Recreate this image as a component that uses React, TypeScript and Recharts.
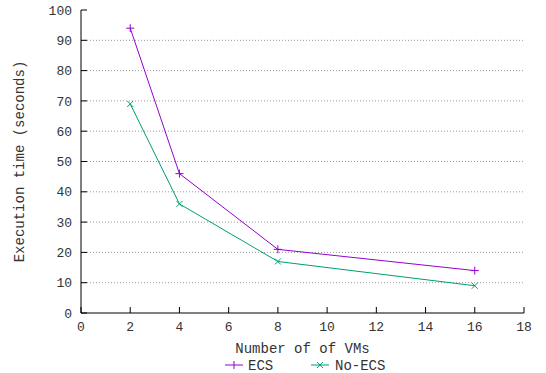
import React from 'react';
import { LineChart, Line, XAxis, YAxis, CartesianGrid } from 'recharts';

const vms = [2, 4, 8, 16];
const ecsTimes = [94, 46, 21, 14];
const noEcsTimes = [69, 36, 17, 9];
const xTicks = [0, 2, 4, 6, 8, 10, 12, 14, 16, 18];
const yTicks = [0, 10, 20, 30, 40, 50, 60, 70, 80, 90, 100];

const ECS_COLOR = '#9400D3';
const NOECS_COLOR = '#009E73';
const FONT = '"Liberation Mono", "DejaVu Sans Mono", monospace';

const data = vms.map((v, i) => ({ vms: v, ecs: ecsTimes[i], noEcs: noEcsTimes[i] }));

const PlusDot = (props: any) => {
  const { cx, cy } = props;
  if (cx == null || cy == null) return null;
  const s = 4;
  return (
    <g>
      <line x1={cx - s} x2={cx + s} y1={cy} y2={cy} stroke={ECS_COLOR} strokeWidth={1} />
      <line x1={cx} x2={cx} y1={cy - s} y2={cy + s} stroke={ECS_COLOR} strokeWidth={1} />
    </g>
  );
};

const CrossDot = (props: any) => {
  const { cx, cy } = props;
  if (cx == null || cy == null) return null;
  const s = 3;
  return (
    <g>
      <line x1={cx - s} x2={cx + s} y1={cy - s} y2={cy + s} stroke={NOECS_COLOR} strokeWidth={1} />
      <line x1={cx - s} x2={cx + s} y1={cy + s} y2={cy - s} stroke={NOECS_COLOR} strokeWidth={1} />
    </g>
  );
};

const tickStyle = { fontFamily: FONT, fontSize: 13, fill: '#333' };

export default function App() {
  return (
    <div style={{ position: 'absolute', left: 0, top: 0, width: 546, height: 373, background: '#fff' }}>
      <LineChart width={546} height={373} data={data} margin={{ top: 10, right: 22, left: 0, bottom: 0 }}>
        <CartesianGrid vertical={false} stroke="#999" strokeDasharray="1 2" horizontalValues={[10, 20, 30, 40, 50, 60, 70, 80, 90]} />
        <XAxis
          type="number"
          dataKey="vms"
          domain={[0, 18]}
          ticks={xTicks}
          height={60}
          tickSize={-6}
          tickMargin={15}
          tick={tickStyle}
          axisLine={{ stroke: '#000', strokeWidth: 1 }}
          tickLine={{ stroke: '#000' }}
          interval={0}
          label={{
            content: () => (
              <text x={302.5} y={353} textAnchor="middle" fontFamily={FONT} fontSize={14} fill="#333">
                Number of of VMs
              </text>
            ),
          }}
        />
        <XAxis
          xAxisId="top"
          orientation="top"
          type="number"
          domain={[0, 18]}
          ticks={xTicks}
          height={0}
          tickSize={-6}
          tick={false}
          axisLine={{ stroke: '#000', strokeWidth: 1 }}
          tickLine={{ stroke: '#000' }}
          interval={0}
        />
        <YAxis
          type="number"
          domain={[0, 100]}
          ticks={yTicks}
          width={81}
          tickSize={-6}
          tickMargin={15}
          tick={tickStyle}
          axisLine={{ stroke: '#000', strokeWidth: 1 }}
          tickLine={{ stroke: '#000' }}
          interval={0}
          label={{
            content: () => (
              <text
                x={20}
                y={161.5}
                transform="rotate(-90 20 161.5)"
                textAnchor="middle"
                dominantBaseline="central"
                fontFamily={FONT}
                fontSize={14}
                fill="#333"
              >
                Execution time (seconds)
              </text>
            ),
          }}
        />
        <YAxis
          yAxisId="right"
          orientation="right"
          type="number"
          domain={[0, 100]}
          ticks={yTicks}
          width={0}
          tickSize={-6}
          tick={false}
          axisLine={{ stroke: '#000', strokeWidth: 1 }}
          tickLine={{ stroke: '#000' }}
          interval={0}
        />
        <Line type="linear" dataKey="ecs" stroke={ECS_COLOR} strokeWidth={1} dot={<PlusDot />} activeDot={false} isAnimationActive={false} />
        <Line type="linear" dataKey="noEcs" stroke={NOECS_COLOR} strokeWidth={1} dot={<CrossDot />} activeDot={false} isAnimationActive={false} />
      </LineChart>
      <svg width={546} height={373} style={{ position: 'absolute', left: 0, top: 0, pointerEvents: 'none' }}>
        <line x1={225} x2={243} y1={365} y2={365} stroke={ECS_COLOR} />
        <line x1={234} x2={234} y1={361} y2={369} stroke={ECS_COLOR} />
        <text x={248} y={370} fontFamily={FONT} fontSize={14} fill="#333">ECS</text>
        <line x1={311} x2={329} y1={365} y2={365} stroke={NOECS_COLOR} />
        <line x1={317} x2={323} y1={362} y2={368} stroke={NOECS_COLOR} />
        <line x1={317} x2={323} y1={368} y2={362} stroke={NOECS_COLOR} />
        <text x={335} y={370} fontFamily={FONT} fontSize={14} fill="#333">No-ECS</text>
      </svg>
    </div>
  );
}
